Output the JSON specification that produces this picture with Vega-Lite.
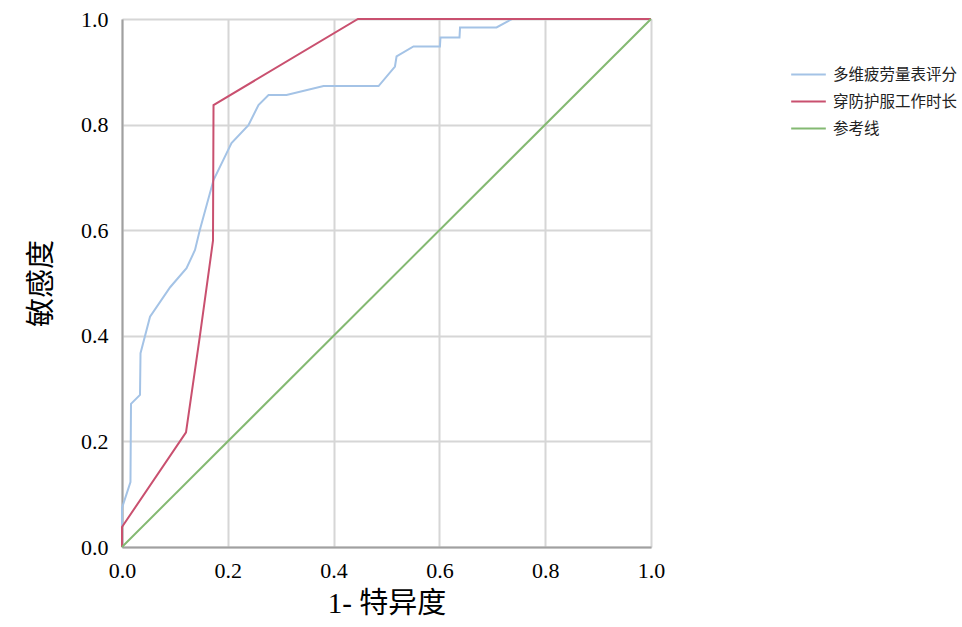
{
  "$schema": "https://vega.github.io/schema/vega-lite/v6.json",
  "width": 529,
  "height": 528,
  "autosize": "none",
  "padding": {"left": 122, "top": 19, "right": 311, "bottom": 80},
  "background": "white",
  "config": {
    "view": {"stroke": null},
    "axis": {
      "gridColor": "#d6d6d6",
      "gridWidth": 2,
      "domainColor": "#a0a0a0",
      "domainWidth": 2,
      "labelFont": "Liberation Serif",
      "labelFontSize": 22,
      "labelColor": "#000000",
      "titleFont": "Liberation Serif, Noto Sans CJK SC",
      "titleFontSize": 29,
      "titleFontWeight": "normal",
      "titleColor": "#000000"
    }
  },
  "data": {
    "values": [
      {"s": "多维疲劳量表评分", "o": 0, "x": 0, "y": 0},
      {"s": "多维疲劳量表评分", "o": 1, "x": 0, "y": 0.074},
      {"s": "多维疲劳量表评分", "o": 2, "x": 0.016, "y": 0.123},
      {"s": "多维疲劳量表评分", "o": 3, "x": 0.017, "y": 0.271},
      {"s": "多维疲劳量表评分", "o": 4, "x": 0.034, "y": 0.288},
      {"s": "多维疲劳量表评分", "o": 5, "x": 0.035, "y": 0.367},
      {"s": "多维疲劳量表评分", "o": 6, "x": 0.053, "y": 0.436},
      {"s": "多维疲劳量表评分", "o": 7, "x": 0.091, "y": 0.492},
      {"s": "多维疲劳量表评分", "o": 8, "x": 0.122, "y": 0.528},
      {"s": "多维疲劳量表评分", "o": 9, "x": 0.138, "y": 0.5625},
      {"s": "多维疲劳量表评分", "o": 10, "x": 0.147, "y": 0.6},
      {"s": "多维疲劳量表评分", "o": 11, "x": 0.173, "y": 0.695},
      {"s": "多维疲劳量表评分", "o": 12, "x": 0.207, "y": 0.765},
      {"s": "多维疲劳量表评分", "o": 13, "x": 0.239, "y": 0.799},
      {"s": "多维疲劳量表评分", "o": 14, "x": 0.258, "y": 0.837},
      {"s": "多维疲劳量表评分", "o": 15, "x": 0.277, "y": 0.856},
      {"s": "多维疲劳量表评分", "o": 16, "x": 0.311, "y": 0.856},
      {"s": "多维疲劳量表评分", "o": 17, "x": 0.381, "y": 0.873},
      {"s": "多维疲劳量表评分", "o": 18, "x": 0.485, "y": 0.873},
      {"s": "多维疲劳量表评分", "o": 19, "x": 0.516, "y": 0.91},
      {"s": "多维疲劳量表评分", "o": 20, "x": 0.519, "y": 0.929},
      {"s": "多维疲劳量表评分", "o": 21, "x": 0.551, "y": 0.948},
      {"s": "多维疲劳量表评分", "o": 22, "x": 0.601, "y": 0.948},
      {"s": "多维疲劳量表评分", "o": 23, "x": 0.602, "y": 0.965},
      {"s": "多维疲劳量表评分", "o": 24, "x": 0.638, "y": 0.965},
      {"s": "多维疲劳量表评分", "o": 25, "x": 0.639, "y": 0.984},
      {"s": "多维疲劳量表评分", "o": 26, "x": 0.708, "y": 0.984},
      {"s": "多维疲劳量表评分", "o": 27, "x": 0.737, "y": 1},
      {"s": "多维疲劳量表评分", "o": 28, "x": 1, "y": 1},
      {"s": "穿防护服工作时长", "o": 0, "x": 0, "y": 0},
      {"s": "穿防护服工作时长", "o": 1, "x": 0, "y": 0.038},
      {"s": "穿防护服工作时长", "o": 2, "x": 0.121, "y": 0.217},
      {"s": "穿防护服工作时长", "o": 3, "x": 0.147, "y": 0.398},
      {"s": "穿防护服工作时长", "o": 4, "x": 0.172, "y": 0.58},
      {"s": "穿防护服工作时长", "o": 5, "x": 0.173, "y": 0.837},
      {"s": "穿防护服工作时长", "o": 6, "x": 0.446, "y": 1},
      {"s": "穿防护服工作时长", "o": 7, "x": 1, "y": 1},
      {"s": "参考线", "o": 0, "x": 0, "y": 0},
      {"s": "参考线", "o": 1, "x": 1, "y": 1}
    ]
  },
  "mark": {"type": "line", "strokeWidth": 2},
  "encoding": {
    "x": {
      "field": "x", "type": "quantitative",
      "scale": {"domain": [0, 1], "nice": false, "zero": false},
      "axis": {"values": [0, 0.2, 0.4, 0.6, 0.8, 1.0], "format": ".1f", "title": "1- 特异度", "tickSize": 0, "labelPadding": 13, "titlePadding": 8, "labelFlush": false}
    },
    "y": {
      "field": "y", "type": "quantitative",
      "scale": {"domain": [0, 1], "nice": false, "zero": false},
      "axis": {"values": [0, 0.2, 0.4, 0.6, 0.8, 1.0], "format": ".1f", "title": "敏感度", "tickSize": 0, "labelPadding": 14, "titlePadding": 24, "labelFlush": false}
    },
    "color": {
      "field": "s", "type": "nominal",
      "scale": {"domain": ["多维疲劳量表评分", "穿防护服工作时长", "参考线"], "range": ["#a4c3e6", "#c9506f", "#84b972"]},
      "legend": {
        "title": null,
        "orient": "none",
        "legendX": 668,
        "legendY": 37,
        "symbolType": "stroke",
        "symbolSize": 1200,
        "symbolStrokeWidth": 2,
        "labelFont": "Noto Sans CJK SC",
        "labelFontSize": 15.5,
        "labelColor": "#222222",
        "labelOffset": 6,
        "rowPadding": -17
      }
    },
    "order": {"field": "o", "type": "quantitative"}
  }
}
